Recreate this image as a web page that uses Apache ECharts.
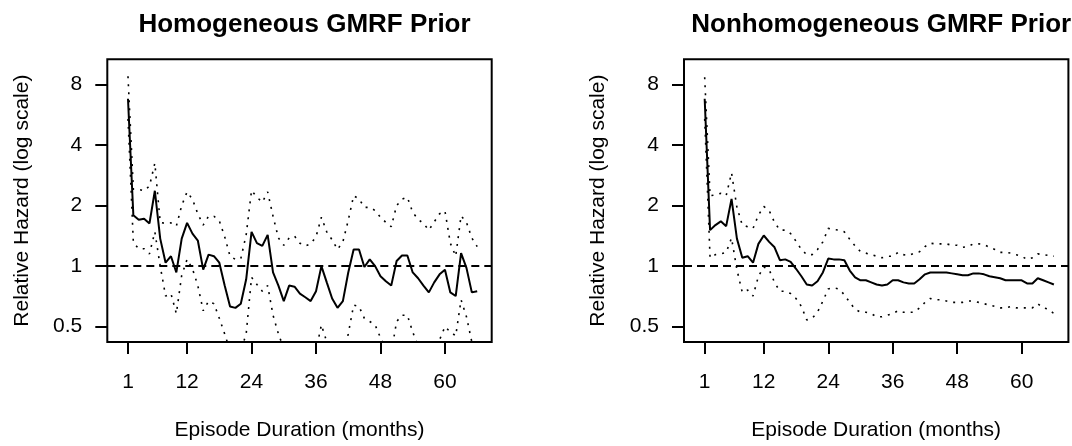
<!DOCTYPE html>
<html>
<head>
<meta charset="utf-8">
<script src="https://cdn.jsdelivr.net/npm/echarts@6/dist/echarts.min.js"></script>
<style>
  html, body { margin: 0; padding: 0; background: #fff; }
  #chart { width: 1072px; height: 446px; }
</style>
</head>
<body>
<div id="chart"></div>
<script>
const months = [1, 2, 3, 4, 5, 6, 7, 8, 9, 10, 11, 12, 13, 14, 15, 16, 17, 18, 19, 20, 21, 22,
  23, 24, 25, 26, 27, 28, 29, 30, 31, 32, 33, 34, 35, 36, 37, 38, 39, 40, 41, 42, 43, 44,
  45, 46, 47, 48, 49, 50, 51, 52, 53, 54, 55, 56, 57, 58, 59, 60, 61, 62, 63, 64, 65, 66]

const xTicks = [1, 12, 24, 36, 48, 60]
const yTicks = [0.5, 1, 2, 4, 8]
const titles = ['Homogeneous GMRF Prior', 'Nonhomogeneous GMRF Prior']

// homogeneous prior: posterior median and pointwise band
const homMedian = [6.8, 1.79, 1.70, 1.72, 1.63, 2.37, 1.37, 1.04, 1.12, 0.93, 1.37, 1.64, 1.45, 1.34,
  0.96, 1.14, 1.12, 1.04, 0.80, 0.63, 0.62, 0.65, 0.86, 1.48, 1.30, 1.26, 1.43, 0.93, 0.80, 0.67,
  0.80, 0.79, 0.73, 0.70, 0.67, 0.75, 1.00, 0.83, 0.69, 0.62, 0.67, 0.93, 1.21, 1.21, 0.99, 1.08,
  1.00, 0.89, 0.84, 0.80, 1.06, 1.13, 1.13, 0.93, 0.87, 0.80, 0.74, 0.83, 0.91, 0.96, 0.74, 0.71,
  1.16, 0.98, 0.74, 0.75]
const homUpper = [8.8, 2.41, 2.41, 2.37, 2.5, 3.25, 1.65, 1.63, 1.64, 1.58, 2.0, 2.34, 2.15, 1.82,
  1.6, 1.77, 1.77, 1.68, 1.4, 1.12, 1.08, 1.09, 1.43, 2.38, 2.2, 2.08, 2.34, 1.77, 1.38, 1.27,
  1.38, 1.41, 1.3, 1.26, 1.29, 1.4, 1.75, 1.48, 1.35, 1.21, 1.32, 1.69, 2.24, 2.16, 1.96, 1.96,
  1.89, 1.75, 1.65, 1.57, 2.0, 2.15, 2.2, 1.85, 1.71, 1.63, 1.51, 1.66, 1.82, 1.88, 1.3, 1.12,
  1.78, 1.65, 1.38, 1.25]
const homLower = [5.4, 1.31, 1.22, 1.22, 1.15, 1.48, 1.0, 0.71, 0.73, 0.58, 0.9, 1.08, 0.97, 0.8,
  0.6, 0.67, 0.65, 0.55, 0.46, 0.38, 0.35, 0.38, 0.46, 0.88, 0.81, 0.75, 0.8, 0.57, 0.46, 0.39,
  0.4, 0.39, 0.37, 0.36, 0.35, 0.38, 0.51, 0.42, 0.35, 0.32, 0.35, 0.46, 0.64, 0.63, 0.55, 0.53,
  0.51, 0.44, 0.39, 0.37, 0.53, 0.57, 0.57, 0.47, 0.4, 0.37, 0.34, 0.37, 0.43, 0.5, 0.47, 0.45,
  0.68, 0.56, 0.42, 0.4]

// nonhomogeneous prior
const nonMedian = [6.8, 1.51, 1.60, 1.67, 1.58, 2.16, 1.37, 1.10, 1.12, 1.04, 1.29, 1.42, 1.32, 1.24,
  1.07, 1.08, 1.05, 0.97, 0.89, 0.81, 0.80, 0.84, 0.93, 1.09, 1.08, 1.08, 1.07, 0.95, 0.88, 0.85,
  0.85, 0.83, 0.81, 0.80, 0.81, 0.85, 0.85, 0.83, 0.82, 0.82, 0.86, 0.91, 0.93, 0.93, 0.93, 0.93,
  0.92, 0.91, 0.90, 0.90, 0.92, 0.92, 0.91, 0.89, 0.88, 0.87, 0.85, 0.85, 0.85, 0.85, 0.82, 0.82,
  0.87, 0.85, 0.83, 0.81]
const nonUpper = [8.7, 2.24, 2.26, 2.30, 2.24, 2.91, 1.96, 1.6, 1.57, 1.54, 1.79, 1.98, 1.89, 1.65,
  1.51, 1.51, 1.45, 1.33, 1.21, 1.14, 1.14, 1.21, 1.32, 1.54, 1.52, 1.51, 1.48, 1.36, 1.26, 1.18,
  1.16, 1.14, 1.12, 1.10, 1.12, 1.12, 1.17, 1.14, 1.13, 1.16, 1.18, 1.25, 1.30, 1.29, 1.29, 1.29,
  1.27, 1.27, 1.24, 1.25, 1.29, 1.29, 1.28, 1.24, 1.21, 1.17, 1.17, 1.16, 1.14, 1.12, 1.08, 1.10,
  1.15, 1.14, 1.13, 1.12]
const nonLower = [5.4, 1.1, 1.14, 1.15, 1.17, 1.38, 0.96, 0.74, 0.76, 0.71, 0.89, 0.99, 0.96, 0.83,
  0.75, 0.75, 0.73, 0.69, 0.63, 0.54, 0.55, 0.59, 0.67, 0.77, 0.78, 0.77, 0.72, 0.66, 0.61, 0.59,
  0.59, 0.58, 0.56, 0.56, 0.57, 0.58, 0.60, 0.59, 0.59, 0.59, 0.62, 0.66, 0.69, 0.68, 0.68, 0.67,
  0.66, 0.66, 0.66, 0.67, 0.67, 0.66, 0.65, 0.64, 0.63, 0.62, 0.62, 0.63, 0.62, 0.62, 0.62, 0.62,
  0.65, 0.62, 0.61, 0.58]

const FONT = '"Liberation Sans", Arial, sans-serif'
const panels = [
  { left: 107.3, median: homMedian, upper: homUpper, lower: homLower },
  { left: 684, median: nonMedian, upper: nonUpper, lower: nonLower },
]
const plotW = 384.4
const plotTop = 59.3
const plotH = 288

const pairs = (ys) => months.map((m, i) => [m, ys[i]])

const chart = echarts.init(document.getElementById('chart'), null, { renderer: 'canvas' })

const option = {
  animation: false,
  backgroundColor: '#fff',
  title: panels.map((p, i) => ({
    text: titles[i],
    left: p.left + plotW / 2,
    top: 7,
    textAlign: 'center',
    textStyle: { fontFamily: FONT, fontSize: 26, fontWeight: 'bold', color: '#000' },
  })),
  grid: panels.map((p) => ({
    left: p.left,
    top: plotTop,
    width: plotW,
    height: plotH,
    show: true,
    borderColor: '#000',
    borderWidth: 2,
    backgroundColor: 'transparent',
  })),
  xAxis: panels.map((p, i) => ({
    type: 'value',
    gridIndex: i,
    min: -2.85,
    max: 68.7,
    name: 'Episode Duration (months)',
    nameLocation: 'middle',
    nameGap: 78,
    nameTextStyle: { fontFamily: FONT, fontSize: 21, color: '#000' },
    axisLine: { show: false, onZero: false },
    splitLine: { show: false },
    axisTick: { show: true, inside: false, length: 12, customValues: xTicks, lineStyle: { color: '#000', width: 2 } },
    axisLabel: { customValues: xTicks, margin: 30, fontFamily: FONT, fontSize: 21, color: '#000' },
  })),
  yAxis: panels.map((p, i) => ({
    type: 'log',
    logBase: 2,
    gridIndex: i,
    min: 0.4193,
    max: 10.68,
    name: 'Relative Hazard (log scale)',
    nameLocation: 'middle',
    nameGap: 75,
    nameTextStyle: { fontFamily: FONT, fontSize: 21, color: '#000' },
    // keep the axis on the box edge, not at x = 0
    axisLine: { show: false, onZero: false },
    splitLine: { show: false },
    axisTick: { show: true, inside: false, length: 12, customValues: yTicks, lineStyle: { color: '#000', width: 2 } },
    axisLabel: { customValues: yTicks, margin: 25, fontFamily: FONT, fontSize: 21, color: '#000' },
  })),
  series: panels.flatMap((p, i) => [
    {
      type: 'line',
      xAxisIndex: i,
      yAxisIndex: i,
      data: pairs(p.median),
      symbol: 'none',
      lineStyle: { color: '#000', width: 2 },
      markLine: {
        silent: true,
        symbol: 'none',
        label: { show: false },
        lineStyle: { color: '#000', width: 2, type: [8, 5] },
        data: [{ yAxis: 1 }],
      },
    },
    {
      type: 'line',
      xAxisIndex: i,
      yAxisIndex: i,
      data: pairs(p.upper),
      symbol: 'none',
      lineStyle: { color: '#000', width: 1.6, type: [2, 6] },
    },
    {
      type: 'line',
      xAxisIndex: i,
      yAxisIndex: i,
      data: pairs(p.lower),
      symbol: 'none',
      lineStyle: { color: '#000', width: 1.6, type: [2, 6] },
    },
  ]),
}

chart.setOption(option)
</script>
</body>
</html>
